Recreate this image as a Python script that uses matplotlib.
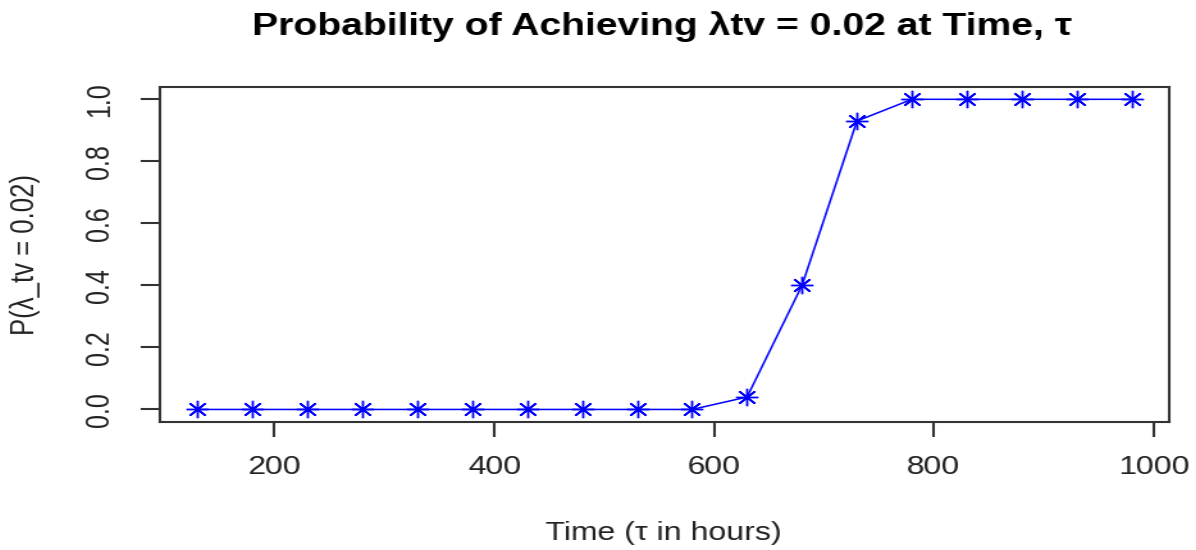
import matplotlib
matplotlib.use("Agg")
import matplotlib.pyplot as plt
import numpy as np

plt.rcParams['font.family'] = ['Liberation Sans', 'DejaVu Sans']

# Time points (hours) and probability of reaching the target rate
time_hours = [130, 180, 230, 280, 330, 380, 430, 480, 530, 580,
              630, 680, 730, 780, 830, 880, 930, 980]
probability = [0.0, 0.0, 0.0, 0.0, 0.0, 0.0, 0.0, 0.0, 0.0, 0.0,
               0.04, 0.40, 0.93, 1.0, 1.0, 1.0, 1.0, 1.0]

x_ticks = [200, 400, 600, 800, 1000]
y_ticks = [0.0, 0.2, 0.4, 0.6, 0.8, 1.0]
y_tick_labels = ["0.0", "0.2", "0.4", "0.6", "0.8", "1.0"]

OUT_W, OUT_H = 1196, 550
STRETCH = 1.28  # the final image is widened horizontally by this factor

fig = plt.figure(figsize=(OUT_W / STRETCH / 100, OUT_H / 100), dpi=100)
ax = fig.add_axes([0.134, 0.233, 0.843, 0.609])

ax.plot(time_hours, probability, color="#0000ff", linewidth=1.1,
        marker=(8, 2, 0), markersize=12.5, markeredgewidth=1.0,
        markeredgecolor="#0000ff")

xr = max(time_hours) - min(time_hours)
ax.set_xlim(min(time_hours) - 0.04 * xr, max(time_hours) + 0.04 * xr)
ax.set_ylim(-0.04, 1.04)

ax.set_xticks(x_ticks)
ax.set_xticklabels([str(t) for t in x_ticks])
ax.set_yticks(y_ticks)
ax.set_yticklabels(y_tick_labels, rotation=90, va="center")

for s in ax.spines.values():
    s.set_linewidth(1.5)
    s.set_color("#333333")

ax.tick_params(axis="both", direction="out", length=11, width=1.5,
               color="#333333", labelsize=18, labelcolor="#222222")
ax.tick_params(axis="x", pad=13)
ax.tick_params(axis="y", pad=14)

fig.text(0.553, 0.952, "Probability of Achieving \u03bbtv = 0.02 at Time, \u03c4",
         ha="center", va="center", fontsize=22, fontweight="bold")
fig.text(0.555, 0.031, "Time (\u03c4 in hours)", ha="center", va="center",
         fontsize=18, color="#222222")
fig.text(0.021, 0.537, "P(\u03bb_tv = 0.02)", ha="center", va="center",
         rotation=90, fontsize=18.5, color="#222222")

# Render, then widen the raster to the final size with linear interpolation
fig.canvas.draw()
img = np.asarray(fig.canvas.buffer_rgba())[:, :, :3].astype(float)
h, w = img.shape[:2]
xs = np.linspace(0, w - 1, OUT_W)
i0 = np.floor(xs).astype(int)
i1 = np.minimum(i0 + 1, w - 1)
f = (xs - i0)[None, :, None]
wide = img[:, i0, :] * (1 - f) + img[:, i1, :] * f
plt.imsave("out.png", np.clip(wide, 0, 255).astype(np.uint8))
